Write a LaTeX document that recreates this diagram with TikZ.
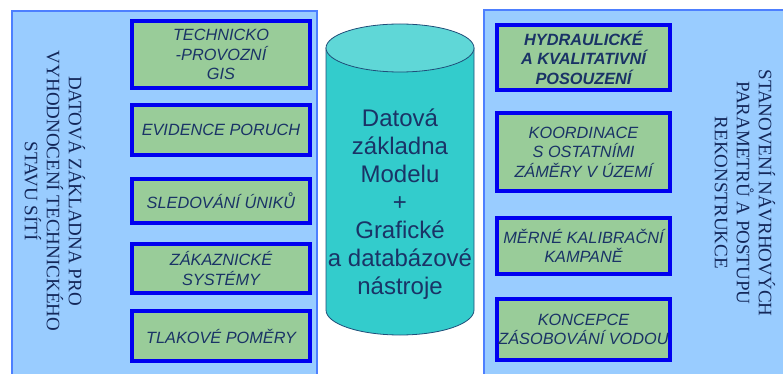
\documentclass[tikz,border=0pt]{standalone}
\usepackage{fontspec}
\setmainfont{Liberation Sans}
\newfontfamily\titleserif{Liberation Serif}

\definecolor{panelfill}{HTML}{99CCFF}
\definecolor{panelline}{HTML}{4D7FFF}
\definecolor{itemfill}{HTML}{99CC99}
\definecolor{itemline}{HTML}{0000F0}
\definecolor{ink}{HTML}{1A3366}
\definecolor{titleink}{HTML}{14285A}
\definecolor{cylbody}{HTML}{33CCCC}
\definecolor{cyltop}{HTML}{5FD7D7}
\definecolor{cylline}{HTML}{1F4E79}

\begin{document}
\begin{tikzpicture}[x=1pt,y=-1pt,
  panel/.style={draw=panelline, line width=2pt, fill=panelfill},
  item/.style={draw=itemline, line width=3.8pt, fill=itemfill, text=ink,
    font=\fontsize{16.3}{19.5}\selectfont\itshape, align=center, inner sep=0pt},
  itembold/.style={item, font=\fontsize{16.3}{19.5}\selectfont\bfseries\itshape},
  sidetitle/.style={rotate=-90, align=center, text=titleink,
    font=\titleserif\fontsize{19}{22}\selectfont},
  cyl/.style={draw=cylline, line width=0.8pt}
]
\useasboundingbox (0,0) rectangle (783,374);
\clip (0,0) rectangle (783,374);

% side panels
\path[panel] (12,11) rectangle (317,390);
\path[panel] (484,10) rectangle (800,390);

% left column of sources
\node[item, minimum width=178.2pt, minimum height=67.2pt] (gis) at (221,54.5)
  {TECHNICKO\\-PROVOZNÍ\\GIS};
\node[item, minimum width=178.2pt, minimum height=50.2pt] (poruchy) at (221,130)
  {EVIDENCE PORUCH};
\node[item, minimum width=178.2pt, minimum height=44.2pt] (uniky) at (221,201)
  {SLEDOVÁNÍ ÚNIKŮ};
\node[item, minimum width=178.2pt, minimum height=49.2pt] (zakaznici) at (221,268.5)
  {ZÁKAZNICKÉ\\SYSTÉMY};
\node[item, minimum width=178.2pt, minimum height=50.2pt] (tlaky) at (221,336)
  {TLAKOVÉ POMĚRY};

\node[sidetitle] (lefttitle) at (55,191)
  {DATOVÁ ZÁKLADNA PRO\\VYHODNOCENÍ TECHNICKÉHO\\STAVU SÍTÍ};

% right column of outputs
\node[itembold, minimum width=173.2pt, minimum height=65.2pt] (hydraulika) at (583.5,57.5)
  {HYDRAULICKÉ\\A KVALITATIVNÍ\\POSOUZENÍ};
\node[item, minimum width=173.2pt, minimum height=78.2pt] (koordinace) at (583.5,152)
  {KOORDINACE\\S OSTATNÍMI\\ZÁMĚRY V ÚZEMÍ};
\node[item, minimum width=173.2pt, minimum height=56.2pt] (kalibrace) at (583.5,246)
  {MĚRNÉ KALIBRAČNÍ\\KAMPANĚ};
\node[item, minimum width=173.2pt, minimum height=61.2pt] (koncepce) at (583.5,329.5)
  {KONCEPCE\\ZÁSOBOVÁNÍ VODOU};

\node[sidetitle] (righttitle) at (745,193)
  {STANOVENÍ NÁVRHOVÝCH\\PARAMETRŮ A POSTUPU\\REKONSTRUKCE};

% central database cylinder
\path[cyl, fill=cylbody] (326,48) -- (326,310)
  arc[start angle=180, end angle=360, x radius=74pt, y radius=25pt]
  -- (474,48) -- cycle;
\path[cyl, fill=cyltop] (400,48) ellipse [x radius=74pt, y radius=24pt];
\node[text=ink, align=center, font=\fontsize{24}{28}\selectfont] (model) at (400,204)
  {Datová\\základna\\Modelu\\+\\Grafické\\a databázové\\nástroje};
\end{tikzpicture}
\end{document}
